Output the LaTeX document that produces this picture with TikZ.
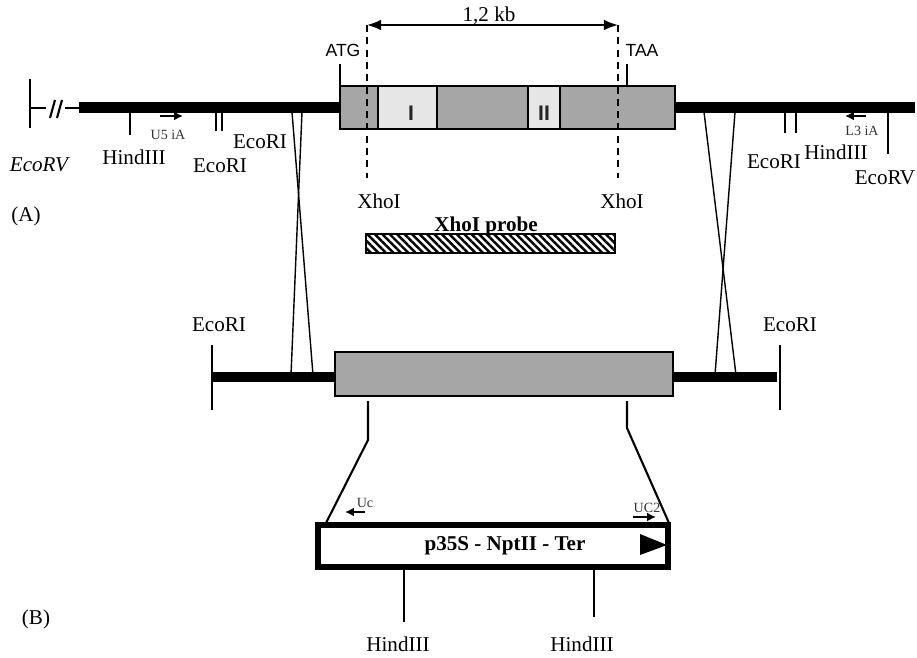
\documentclass[tikz,border=0pt]{standalone}
\usepackage{fontspec}
\setmainfont{Liberation Serif}
\setsansfont{Liberation Sans}
\usetikzlibrary{
    arrows.meta,
    patterns.meta
}
\definecolor{geneGray}{RGB}{166,166,166}
\definecolor{exonGray}{RGB}{230,230,230}
\tikzset{
  slabel/.style  = {inner sep=0pt, font=\fontsize{12}{12}\selectfont},
  tlabel/.style  = {inner sep=0pt, font=\fontsize{8}{8}\selectfont, text=black!80},
  clabel/.style  = {inner sep=0pt, font=\fontsize{10}{10}\selectfont\sffamily},
  xlabel/.style  = {inner sep=0pt, font=\fontsize{12}{12}\selectfont\sffamily\bfseries, text=black!85},
  site/.style    = {draw, line width=1.2pt},
  dna/.style     = {draw, line width=5.8pt},
  gene/.style    = {draw, line width=1.2pt, fill=geneGray, inner sep=0pt, outer sep=0pt},
  exon/.style    = {draw, line width=1.2pt, fill=exonGray, inner sep=0pt, outer sep=0pt},
  primer/.style  = {-{Latex[length=5pt,width=5pt]}, line width=1.5pt},
  cross/.style   = {draw, line width=0.8pt},
  xsite/.style   = {draw, line width=1.5pt, dash pattern=on 4pt off 3pt}
}
\begin{document}
\begin{tikzpicture}[x=0.02cm,y=-0.02cm]
    \useasboundingbox (0,0) rectangle (917,657);

    % gene on top
    \node[gene, minimum width=6.7cm, minimum height=0.86cm] (gene) at (507.5,107.5) {};
    \node[exon, minimum width=1.18cm, minimum height=0.86cm] (exonI)  at (407.5,107.5) {};
    \node[exon, minimum width=0.64cm, minimum height=0.86cm] (exonII) at (544,107.5) {};
    \node[xlabel] (exonIt)  at (411,113) {I};
    \node[xlabel] (exonIIt) at (544,113) {II};

    \coordinate (leftEnd)   at (79,107.5);
    \coordinate (rightEnd)  at (915,107.5);
    \draw[dna] (leftEnd) -- (gene.west);
    \draw[dna] (gene.east) -- (rightEnd);

    % left end with the break
    \coordinate (barTop)  at (30,79);
    \coordinate (barBot)  at (30,128);
    \coordinate (barMid)  at (30,108);
    \coordinate (brkA)    at (46,108);
    \coordinate (brkB)    at (65,108);
    \coordinate (slashAa) at (55,100);
    \coordinate (slashAb) at (50,118);
    \coordinate (slashBa) at (62,100);
    \coordinate (slashBb) at (57,118);
    \draw[site] (barTop) -- (barBot);
    \draw[site] (barMid) -- (brkA);
    \draw[site] (brkB) -- (leftEnd |- brkB);
    \draw[site] (slashAa) -- (slashAb);
    \draw[site] (slashBa) -- (slashBb);

    % restriction sites, top line
    \coordinate (hindLa)  at (130,113);
    \coordinate (hindLb)  at (130,135);
    \coordinate (ecoLa)   at (216,113);
    \coordinate (ecoLb)   at (216,131);
    \coordinate (ecoLc)   at (222,113);
    \coordinate (ecoLd)   at (222,131);
    \coordinate (ecoRa)   at (785,113);
    \coordinate (ecoRb)   at (785,133);
    \coordinate (ecoRc)   at (796,113);
    \coordinate (ecoRd)   at (796,133);
    \coordinate (rvRa)    at (888,113);
    \coordinate (rvRb)    at (888,154);
    \coordinate (atgA)    at (340,64);
    \coordinate (atgB)    at (340,86);
    \coordinate (taaA)    at (627,64);
    \coordinate (taaB)    at (627,86);
    \draw[site] (hindLa) -- (hindLb);
    \draw[site] (ecoLa) -- (ecoLb);
    \draw[site] (ecoLc) -- (ecoLd);
    \draw[site] (ecoRa) -- (ecoRb);
    \draw[site] (ecoRc) -- (ecoRd);
    \draw[site] (rvRa) -- (rvRb);
    \draw[site] (atgA) -- (atgB);
    \draw[site] (taaA) -- (taaB);

    \node[slabel] (ecoRVl) at (40,165)  {\textit{EcoRV}};
    \node[slabel] (hindL)  at (134,157) {HindIII};
    \node[slabel] (ecoL)   at (220,166) {EcoRI};
    \node[slabel] (ecoLu)  at (260,142) {EcoRI};
    \node[slabel] (ecoR)   at (774,162) {EcoRI};
    \node[slabel] (hindR)  at (836,152) {HindIII};
    \node[slabel] (ecoRVr) at (885,178) {EcoRV};
    \node[slabel] (panelA) at (26,216)  {(A)};
    \node[slabel] (panelB) at (36,619)  {(B)};
    \node[clabel] (atg)    at (343,50)  {ATG};
    \node[clabel] (taa)    at (642,50)  {TAA};

    % primers, top line
    \coordinate (uFiveA) at (160,116);
    \coordinate (uFiveB) at (183,116);
    \coordinate (lThreeA) at (866,116);
    \coordinate (lThreeB) at (845,116);
    \draw[primer] (uFiveA) -- (uFiveB);
    \draw[primer] (lThreeA) -- (lThreeB);
    \node[tlabel] (uFive)  at (168,135) {U5 iA};
    \node[tlabel] (lThree) at (862,131) {L3 iA};

    % XhoI fragment
    \coordinate (xhoLa) at (367,25);
    \coordinate (xhoLb) at (367,178);
    \coordinate (xhoRa) at (618,25);
    \coordinate (xhoRb) at (618,178);
    \draw[xsite] (xhoLa) -- (xhoLb);
    \draw[xsite] (xhoRa) -- (xhoRb);
    \draw[{Latex[length=8pt,width=6pt]}-{Latex[length=8pt,width=6pt]}, line width=0.9pt] (xhoLa) -- (xhoRa);
    \node[slabel] (kb)   at (489,15.5) {1,2 kb};
    \node[slabel] (xhoL) at (379,201) {XhoI};
    \node[slabel] (xhoR) at (622,201) {XhoI};

    % probe
    \node[slabel, font=\fontsize{12}{12}\selectfont\bfseries] (probeText) at (486,226) {XhoI probe};
    \node[draw, line width=1pt, pattern={Lines[angle=-45,distance=3pt,line width=1.4pt]},
          minimum width=4.98cm, minimum height=0.38cm, inner sep=0pt] (probe) at (490.5,243.5) {};

    % recombined gene
    \node[gene, minimum width=6.76cm, minimum height=0.88cm] (geneB) at (504,374) {};
    \coordinate (midLeft)  at (212,377);
    \coordinate (midRight) at (777,377);
    \draw[dna] (midLeft) -- (midLeft -| geneB.west);
    \draw[dna] (midRight -| geneB.east) -- (midRight);
    \coordinate (siteBa) at (212,345);
    \coordinate (siteBb) at (212,410);
    \coordinate (siteBc) at (780,345);
    \coordinate (siteBd) at (780,410);
    \draw[site] (siteBa) -- (siteBb);
    \draw[site] (siteBc) -- (siteBd);
    \node[slabel] (ecoBl) at (219,325) {EcoRI};
    \node[slabel] (ecoBr) at (790,325) {EcoRI};

    % crossing over
    \coordinate (crossLa) at (292,112);
    \coordinate (crossLb) at (313,375);
    \coordinate (crossLc) at (302,112);
    \coordinate (crossLd) at (291,375);
    \coordinate (crossRa) at (704,112);
    \coordinate (crossRb) at (736,375);
    \coordinate (crossRc) at (735,112);
    \coordinate (crossRd) at (715,375);
    \draw[cross] (crossLa) -- (crossLb);
    \draw[cross] (crossLc) -- (crossLd);
    \draw[cross] (crossRa) -- (crossRb);
    \draw[cross] (crossRc) -- (crossRd);

    % insert
    \node[draw, line width=3.4pt, minimum width=7.0cm, minimum height=0.84cm, inner sep=0pt] (insert) at (493,546) {};
    \node[slabel, font=\fontsize{12}{12}\selectfont\bfseries] (insertText) at (505,546) {p35S - NptII - Ter};
    \coordinate (insLa) at (368,401);
    \coordinate (insLb) at (368,440);
    \coordinate (insLc) at (326,523);
    \coordinate (insRa) at (627,401);
    \coordinate (insRb) at (627,428);
    \coordinate (insRc) at (669,523);
    \draw[site] (insLa) -- (insLb) -- (insLc);
    \draw[site] (insRa) -- (insRb) -- (insRc);

    \coordinate (arrowTip) at (667,545);
    \fill (640,534) -- (arrowTip) -- (640,555) -- cycle;

    \coordinate (ucA) at (365,512);
    \coordinate (ucB) at (345,512);
    \coordinate (ucTwoA) at (633,517);
    \coordinate (ucTwoB) at (656,517);
    \draw[primer] (ucA) -- (ucB);
    \draw[primer] (ucTwoA) -- (ucTwoB);
    \node[tlabel] (uc)    at (365,503) {Uc};
    \node[tlabel] (ucTwo) at (647,508) {UC2};

    \coordinate (hindBa) at (404,570);
    \coordinate (hindBb) at (404,622);
    \coordinate (hindBc) at (594,570);
    \coordinate (hindBd) at (594,617);
    \draw[site] (hindBa) -- (hindBb);
    \draw[site] (hindBc) -- (hindBd);
    \node[slabel] (hindBl) at (398,644) {HindIII};
    \node[slabel] (hindBr) at (582,644) {HindIII};
  \end{tikzpicture}
\end{document}
